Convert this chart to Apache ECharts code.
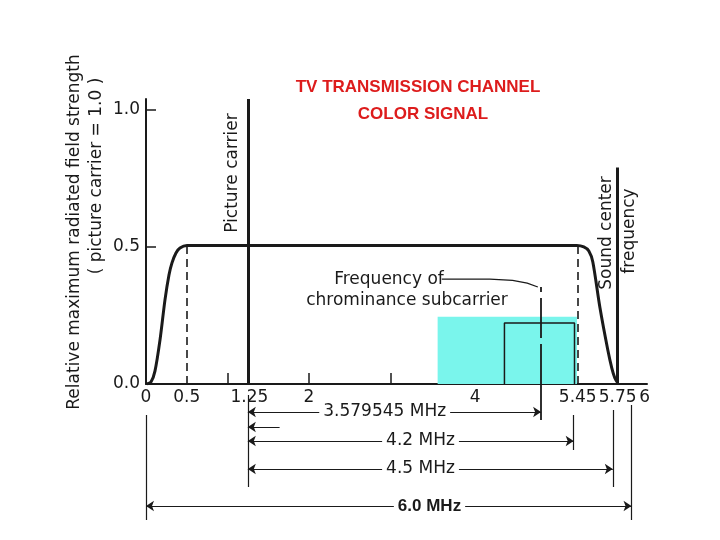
<!DOCTYPE html>
<html><head><meta charset="utf-8">
<script src="https://cdn.jsdelivr.net/npm/echarts@6/dist/echarts.min.js"></script>
<style>html,body{margin:0;padding:0;background:#fff}#c{width:720px;height:540px}</style>
</head><body><div id="c"></div>
<script>
// ---- data (MHz / relative field strength, as drawn in the reference) ----
const responseCurve = [[0.012,0],[0.061,0.007],[0.110,0.047],[0.172,0.161],[0.233,0.307],[0.282,0.398],[0.319,0.442],[0.368,0.478],[0.417,0.496],[0.503,0.505],
  [5.288,0.505],[5.374,0.5],[5.436,0.485],[5.485,0.445],[5.571,0.281],[5.669,0.124],[5.718,0.058],[5.755,0.022],[5.791,0.004]];
const pictureCarrier = [1.25, 1.04];
const soundCarrier = [5.79, 0.79];
const subcarrier = [4.85, 0.354];
const bandEdgeLines = [0.5, 5.3];
const bandEdgeLevel = 0.505;
const cyanBand = [3.58, 5.29, 0.245];
const chromaBox = [4.40, 5.26, 0.223];
const xTickValues = [1, 2, 3, 4, 5];
const xLabelValues = [0, 0.5, 1.27, 2, 4.04, 5.3, 5.79, 6.12];
const xLabelTexts = ['0', '0.5', '1.25', '2', '4', '5.45', '5.75', '6'];
const yTickValues = [0, 0.5, 1.0];
const leader = [[3.63,0.383],[4.22,0.383],[4.50,0.378],[4.68,0.368],[4.81,0.354]];
const dimFrom = [1.25, 1.25, 1.25, 1.25, 0];
const dimTo = [4.85, 1.64, 5.25, 5.73, 5.96];
const dimTexts = ['3.579545 MHz', '', '4.2 MHz', '4.5 MHz', '6.0 MHz'];
const dimTextAt = [2.93, null, 3.37, 3.37, 3.48];
const extX = [0, 1.25, 4.85, 5.25, 5.73, 5.96];

// ---- layout (rows below the axis, px from axis) ----
const dimRow = [28, 43, 57, 85, 122];
const extRange = [[31,136],[11,103],[0,36],[31,66],[26,103],[21,136]];

const INK = '#1a1a1a';
const FONT = 'DejaVu Sans';
const chart = echarts.init(document.getElementById('c'));

const twoArrow = [], oneArrow = [], labelPts = [];
dimFrom.forEach((f, i) => {
  const item = {coords: [[f, dimRow[i]], [dimTo[i], dimRow[i]]]};
  (dimTexts[i] ? twoArrow : oneArrow).push(item);
  if (dimTexts[i]) labelPts.push({value: [dimTextAt[i], dimRow[i]], name: dimTexts[i], bold: i === 4});
});
const extLines = extX.map((x, i) => ({coords: [[x, extRange[i][0]], [x, extRange[i][1]]]}));
const ls = (w, type) => ({color: INK, width: w, opacity: 1, type: type || 'solid'});

chart.setOption({
  animation: false,
  backgroundColor: '#fff',
  grid: [
    {left: 146, right: 73, top: 99, bottom: 156},
    {left: 146, right: 73, top: 384, height: 140}
  ],
  xAxis: [
    {type: 'value', gridIndex: 0, min: 0, max: 6.15,
     axisLine: {lineStyle: {color: INK, width: 2}},
     axisTick: {show: true, inside: true, length: 11, customValues: xTickValues, lineStyle: {color: INK, width: 1.5}},
     axisLabel: {customValues: xLabelValues, margin: 5, color: INK, fontFamily: FONT, fontSize: 17,
       formatter: v => { const i = xLabelValues.findIndex(t => Math.abs(t - v) < 1e-6); return i >= 0 ? xLabelTexts[i] : ''; }},
     splitLine: {show: false}},
    {type: 'value', gridIndex: 1, min: 0, max: 6.15, show: false}
  ],
  yAxis: [
    {type: 'value', gridIndex: 0, min: 0, max: 1.04,
     axisLine: {show: true, lineStyle: {color: INK, width: 2}},
     axisTick: {show: true, inside: true, length: 10, customValues: yTickValues, lineStyle: {color: INK, width: 1.5}},
     axisLabel: {customValues: yTickValues, margin: 6, color: INK, fontFamily: FONT, fontSize: 17, formatter: v => v.toFixed(1)},
     splitLine: {show: false}},
    {type: 'value', gridIndex: 1, min: 0, max: 140, inverse: true, show: false}
  ],
  title: [
    {text: 'TV TRANSMISSION CHANNEL', left: 413, top: 74, textAlign: 'center',
     textStyle: {color: '#dd1c1c', fontFamily: 'Liberation Sans', fontWeight: 'bold', fontSize: 17}},
    {text: 'COLOR SIGNAL', left: 418, top: 101, textAlign: 'center',
     textStyle: {color: '#dd1c1c', fontFamily: 'Liberation Sans', fontWeight: 'bold', fontSize: 17}}
  ],
  graphic: [
    {type: 'text', x: 75, y: 232, rotation: Math.PI / 2,
     style: {text: 'Relative maximum radiated field strength', font: '17px "DejaVu Sans"', fill: INK, align: 'center', verticalAlign: 'middle'}},
    {type: 'text', x: 97, y: 176, rotation: Math.PI / 2,
     style: {text: '( picture carrier = 1.0 )', font: '17px "DejaVu Sans"', fill: INK, align: 'center', verticalAlign: 'middle'}},
    {type: 'text', x: 233, y: 173, rotation: Math.PI / 2,
     style: {text: 'Picture carrier', font: '17px "DejaVu Sans"', fill: INK, align: 'center', verticalAlign: 'middle'}},
    {type: 'text', x: 607, y: 233, rotation: Math.PI / 2,
     style: {text: 'Sound center', font: '17px "DejaVu Sans"', fill: INK, align: 'center', verticalAlign: 'middle'}},
    {type: 'text', x: 630, y: 231, rotation: Math.PI / 2,
     style: {text: 'frequency', font: '17px "DejaVu Sans"', fill: INK, align: 'center', verticalAlign: 'middle'}},
    {type: 'text', x: 389, y: 280,
     style: {text: 'Frequency of', font: '17px "DejaVu Sans"', fill: INK, align: 'center', verticalAlign: 'middle'}},
    {type: 'text', x: 407, y: 301,
     style: {text: 'chrominance subcarrier', font: '17px "DejaVu Sans"', fill: INK, align: 'center', verticalAlign: 'middle'}}
  ],
  series: [
    {type: 'line', xAxisIndex: 0, yAxisIndex: 0, data: [], silent: true, z: 1,
     markArea: {silent: true, itemStyle: {color: '#7af5ec', opacity: 1},
       data: [[{coord: [cyanBand[0], 0]}, {coord: [cyanBand[1], cyanBand[2]]}]]}},
    {type: 'line', xAxisIndex: 0, yAxisIndex: 0, z: 3,
     data: [[chromaBox[0], 0], [chromaBox[0], chromaBox[2]], [chromaBox[1], chromaBox[2]], [chromaBox[1], 0]],
     showSymbol: false, lineStyle: ls(1.5)},
    {type: 'lines', coordinateSystem: 'cartesian2d', xAxisIndex: 0, yAxisIndex: 0, z: 3,
     data: bandEdgeLines.map(x => ({coords: [[x, 0], [x, bandEdgeLevel]]})),
     lineStyle: ls(1.6, [8, 5])},
    {type: 'lines', coordinateSystem: 'cartesian2d', xAxisIndex: 0, yAxisIndex: 0, z: 3,
     data: [{coords: [[subcarrier[0], 0], [subcarrier[0], subcarrier[1]]]}],
     lineStyle: ls(1.8, [40, 6])},
    {type: 'lines', coordinateSystem: 'cartesian2d', xAxisIndex: 0, yAxisIndex: 0, z: 4,
     data: [{coords: [[pictureCarrier[0], 0], [pictureCarrier[0], pictureCarrier[1]]]},
            {coords: [[soundCarrier[0], 0], [soundCarrier[0], soundCarrier[1]]]}],
     lineStyle: ls(3)},
    {type: 'line', xAxisIndex: 0, yAxisIndex: 0, z: 5, data: responseCurve, smooth: 0.25,
     showSymbol: false, lineStyle: ls(3)},
    {type: 'lines', coordinateSystem: 'cartesian2d', xAxisIndex: 0, yAxisIndex: 0, z: 5, polyline: true,
     data: [{coords: leader}], symbol: ['none', 'arrow'], symbolSize: 9, lineStyle: ls(1.3)},
    // below-axis dimension lines
    {type: 'lines', coordinateSystem: 'cartesian2d', xAxisIndex: 1, yAxisIndex: 1,
     data: extLines.filter((d, i) => i !== 2), lineStyle: ls(1.2)},
    {type: 'lines', coordinateSystem: 'cartesian2d', xAxisIndex: 1, yAxisIndex: 1,
     data: [extLines[2]], lineStyle: ls(1.8, [40, 6])},
    {type: 'lines', coordinateSystem: 'cartesian2d', xAxisIndex: 1, yAxisIndex: 1,
     data: twoArrow, symbol: ['arrow', 'arrow'], symbolSize: 8, lineStyle: ls(1.2)},
    {type: 'lines', coordinateSystem: 'cartesian2d', xAxisIndex: 1, yAxisIndex: 1,
     data: oneArrow, symbol: ['arrow', 'none'], symbolSize: 8, lineStyle: ls(1.2)},
    {type: 'scatter', xAxisIndex: 1, yAxisIndex: 1, symbolSize: 0, z: 6,
     data: labelPts.map(p => ({value: p.value, name: p.name,
       label: {fontWeight: p.bold ? 'bold' : 'normal', fontFamily: p.bold ? 'Liberation Sans' : FONT,
               fontSize: 17, color: INK, opacity: 1}})),
     label: {show: true, position: 'inside', formatter: p => p.name, color: INK, fontSize: 17,
       backgroundColor: '#fff', padding: [0, 4]}}
  ]
});
</script></body></html>
